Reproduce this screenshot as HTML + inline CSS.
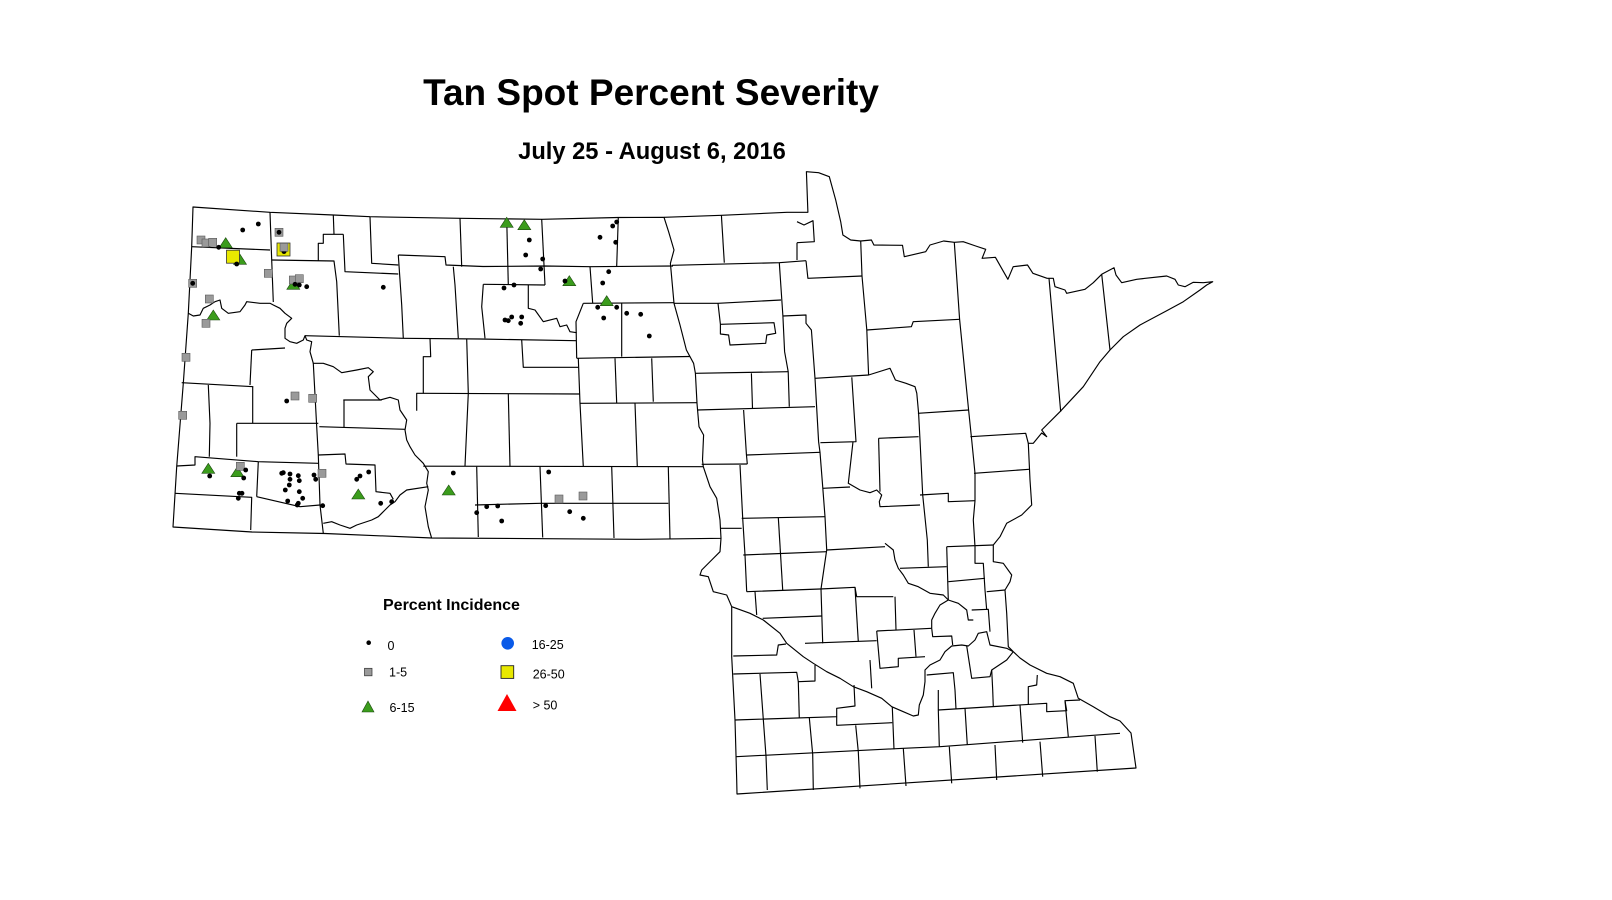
<!DOCTYPE html>
<html>
<head>
<meta charset="utf-8">
<style>
html,body{margin:0;padding:0;background:#fff;}
svg{display:block;}
text{font-family:"Liberation Sans",Arial,sans-serif;fill:#000;}
</style>
</head>
<body>
<svg width="1612" height="900" viewBox="0 0 1612 900" xmlns="http://www.w3.org/2000/svg">
<rect width="1612" height="900" fill="#fff"/>

<text x="651" y="105" font-size="37" font-weight="bold" text-anchor="middle">Tan Spot Percent Severity</text>
<text x="652" y="159" font-size="23.7" font-weight="bold" text-anchor="middle">July 25 - August 6, 2016</text>

<g fill="none" stroke="#000" stroke-width="1.15" stroke-linejoin="round">
<!-- North Dakota outline -->
<path d="M193,207 L270,212.3 L333.3,215 L370,216.7 L460,218.3 L542,219.3 L618,217.5 L664,217.3 L668.6,231.7 L674,250 L670.4,263.3 L674,303.3 L680,325 L686.4,350 L693.6,363.3 L695.4,373.3 L697,403.3 L699,426.7 L703.6,435 L702.5,460 L703.3,466.7 L710,486.7 L716.7,498.3 L720,520 L721,538.3 L640,539.3 L432,538 L325,533.5 L252,532 L173,527 L176.7,466.7 L183.3,383.3 L188.3,313.3 L191.7,246.7 Z"/>
<!-- Minnesota outline -->
<path d="M664,217.3 L721.4,215.3 L787,212.3 L797,212.3 L807.9,212.3 L806.4,171.7 L818.6,172.7 L829.3,176.7 L835.7,200 L840.7,221.7 L842.9,235 L850.7,240 L860.7,241 L871.4,240 L873.9,245 L902.5,245.3 L904.3,256.7 L925.7,251.7 L930,245 L943.6,241 L954.3,242.3 L963.2,241.7 L975.7,246 L985.7,249.3 L982.1,258.3 L995.4,257.3 L1000.7,266.7 L1007.9,279.3 L1013.2,266.7 L1027.5,265 L1032.9,273.3 L1047.1,278.3 L1053.3,278.3 L1055,286.7 L1065,290 L1066.7,293.3 L1085,289.3 L1093.3,282.7 L1101.7,274.3 L1114,267.7 L1116,275 L1121.7,282.7 L1136.7,279.3 L1166.7,276 L1175,279.3 L1178.3,285 L1185,286.7 L1193.3,282.3 L1203.3,282.7 L1212.7,281.7 L1206.7,285 L1200,290 L1183.3,301.7 L1166.7,310.7 L1140,325 L1123.3,336.7 L1110,350 L1100,361.7 L1083.3,386.7 L1060,411.7 L1041.7,430 L1046.7,436.7 L1041.7,433 L1033.3,443.3 L1028.3,443.3 L1030,480 L1031.7,505 L1021.7,515 L1006.7,523.3 L1000,536.7 L993.3,545 L993.3,561.7 L1003.3,563.3 L1011.7,575 L1010,581.7 L1005,590 L1006.7,613.3 L1008.3,646.7 L1013.3,651.7 L1020,658 L1030,665 L1046.7,673.3 L1060,676.7 L1073.3,683.3 L1078.3,698.3 L1093.3,706.7 L1110,716.7 L1120,721 L1131,733 L1136,768 L737,794 L736.7,780 L735,720 L731.7,656.7 L731.7,606.7 L726.7,595 L713.3,591.7 L708.3,576.7 L700,575 L701.7,570 L711.7,560 L720,551.7 L721,538.3"/>

<!-- ND counties -->
<path d="M191.7,246.7 L270,250"/>
<path d="M270,212.3 L271.7,260 L273.3,302"/>
<path d="M271.7,260 L334,261 L336.7,281.7 L339.3,335.7"/>
<path d="M318.3,261 L318.3,243.3 L323.3,243.3 L323.3,234.3 L343.3,234.3"/>
<path d="M333.3,215 L334,234.3"/>
<path d="M343.3,234.3 L345,271.7 L398.3,274"/>
<path d="M370,216.7 L371.7,263.3 L398.3,265"/>
<path d="M398.3,255 L445,256.7 L446,265 L483,266.5 L545,266 L590,266.7 L673,266"/>
<path d="M460,218.3 L461.7,266.7"/>
<path d="M398.3,255 L401.7,305 L403.3,338.3"/>
<path d="M453.3,266.7 L455,285 L458.3,338.3"/>
<path d="M305,335.7 L403.3,338.3 L480,339 L576,340.7"/>
<path d="M430,338.3 L430.7,356.7 L423.3,356.7 L423.3,393.3 L416.7,393.3 L416.7,410.7"/>
<path d="M466.7,339 L468.3,393.3 L465,466"/>
<path d="M506.7,218.3 L508.3,285"/>
<path d="M541.7,219.3 L545,285"/>
<path d="M483.3,284.3 L545,285"/>
<path d="M483.3,284.3 L481.7,306.7 L485,338.3"/>
<path d="M528.3,285 L528.3,308.3 L535,310 L543.3,321.7 L556.7,318.3 L560,326.7 L566.7,325 L570,331.7 L576.7,332.7"/>
<path d="M590,266.7 L592.7,303.3"/>
<path d="M583.3,303.3 L674,302.7"/>
<path d="M583.3,303.3 L576,321.7 L576.7,358.3"/>
<path d="M618.3,217.3 L616.7,266"/>
<path d="M621.7,303.3 L621.7,356.7"/>
<path d="M576.7,358.3 L690,356.5"/>
<path d="M615,358.3 L616.7,403.3"/>
<path d="M651.7,358.3 L653.3,401.7"/>
<path d="M521.7,340 L523.3,367.3 L578.3,367.3"/>
<path d="M423.3,393.3 L580,394"/>
<path d="M508.3,394 L510,466.7"/>
<path d="M578.3,358 L580,403.3 L583.3,466.7"/>
<path d="M580,403.3 L697,402.7"/>
<path d="M635,403.3 L637.3,466.7"/>
<path d="M423.3,466.2 L703.3,466.7"/>
<path d="M251.7,350 L285,348"/>
<path d="M251.7,350 L250,385"/>
<path d="M181.7,382.7 L253.3,386.7"/>
<path d="M208.3,385 L210,423.3 L209.3,456.7"/>
<path d="M252.7,386.7 L252.7,423.3"/>
<path d="M236.7,423.3 L318.3,423.3"/>
<path d="M236.7,423.3 L236.7,456.7"/>
<path d="M313.3,363.3 L316.7,426.7 L318.3,455"/>
<path d="M343.3,400 L381.7,400"/>
<path d="M344,400 L344,427.3"/>
<path d="M319.3,426.7 L405,429.3"/>
<path d="M176.7,466 L195,465 L195,456.7 L258.3,461.7 L318.3,463.3"/>
<path d="M318.3,455 L320,505 L323.3,533.3"/>
<path d="M318.3,455 L345,454 L346,464 L375,465 L376,491.7 L390,493.3 L393.3,499.3"/>
<path d="M258.3,461.7 L256.7,496.7"/>
<path d="M175,493.3 L251.7,497.3 L250.7,530"/>
<path d="M256.7,496.7 L300,506.7 L320,505"/>
<path d="M476.7,466.7 L478.3,537"/>
<path d="M475,505 L540,503.3 L668.3,503.3"/>
<path d="M540,466.7 L542.7,537.5"/>
<path d="M611.7,466.7 L614,538"/>
<path d="M668.3,466.7 L670,538.5"/>
<!-- Missouri river -->
<path d="M188.3,313.3 L193.3,316 L200,315 L203.3,308.3 L210,305 L215,301.7 L220,300 L221.7,308.3 L228.3,313.3 L240,311.7 L245,305 L246.7,301.7 L260,303.3 L270,303.3 L273.3,305 L280,308.3 L285,313.3 L291.7,318.3 L286.7,323.3 L285,328.3 L285,338.3 L290,341.7 L296.7,343.3 L303.3,340 L305,335.7 L306.7,340 L311.7,341.7 L310,351.7 L313.3,363.3 L323.3,363.3 L333.3,366.7 L341.7,372.7 L356.7,370 L368.3,367.7 L373.3,371.7 L368.3,376.7 L370,390 L380,400 L390,397.3 L398.3,400 L400,410 L406.7,420 L405,430 L406.7,440 L410,446.7 L415,455 L423.3,463.3 L428.3,471.7 L426.7,483.3 L428.3,490 L425,506.7 L428.3,526.7 L431.7,538.3"/>
<path d="M323.3,523.3 L331.7,521.7 L340,525 L350,528.3 L356.7,525 L371.7,520 L378.3,516.7 L385,510 L390,505 L395,501.7 L400,495 L406.7,490 L428.3,486.7"/>

<!-- MN counties north -->
<path d="M721.4,215.3 L724.3,262.7"/>
<path d="M672,265.3 L779.3,262.7 L806,260.7"/>
<path d="M797,242.7 L797,260"/>
<path d="M797,221.7 L804,225 L813,220.7 L814.3,241.7 L797,242.7"/>
<path d="M806,260.7 L807.9,278.3 L862,276"/>
<path d="M860.7,241 L862,276 L866.8,330 L868.6,375"/>
<path d="M954.3,242.3 L959.6,319.3 L968.6,410 L971.7,440 L975,473.3 L975,500.7 L973.3,520 L975,546.7 L975,563.3 L983.3,563.3 L985,590 L986.7,610"/>
<path d="M1049,278.3 L1060.7,411.7"/>
<path d="M1101.7,274.3 L1110,350"/>
<path d="M674,303.3 L718,303.3 L781,300"/>
<path d="M718,303.3 L720.4,324.3 L774,322.7 L775.7,333.3 L766.8,335 L765.7,343.3 L730,345 L728.6,335 L720.4,334 L720.4,324.3"/>
<path d="M779.3,262.7 L782.9,316 L784.6,351.7 L788.2,371.7 L789.3,406.7"/>
<path d="M782.9,316 L806,315 L806,323.3 L811.4,330 L815,378.3 L818.6,441.7 L820,452.3 L822.7,486.7 L825,516.7 L826.7,550 L821,589 L822.7,643.3"/>
<path d="M866.8,330 L911.4,326.7 L913.2,321.7 L959.6,319.3"/>
<path d="M815,378.3 L868.6,375 L890,368.3 L895.4,380 L906,383.3 L915,386.7 L916.8,393.3 L918.6,413.3 L920,440 L922.7,495 L927.3,540 L928.3,566.7"/>
<path d="M695.4,373.3 L788.2,371.7"/>
<path d="M697,410 L815,406.7"/>
<path d="M751.4,373.3 L752.5,408.3"/>
<path d="M743.6,410 L746.4,454.3 L747.3,464"/>
<path d="M701.7,464.3 L747.3,464"/>
<path d="M746.7,455 L820,452.3"/>
<path d="M851.8,377.3 L856,441.7 L820.4,442.7"/>
<path d="M853,441.7 L848.3,483.3 L860,490 L870,492.7 L876.7,490 L881.7,495 L879.3,501.7 L880,506.7 L920,505"/>
<path d="M822.7,488.3 L850,487"/>
<path d="M878.6,438.3 L918.6,436.7"/>
<path d="M878.6,438.3 L880,491.7"/>
<path d="M917.9,413.3 L968.6,410"/>
<path d="M970.4,436.7 L1025.7,433.3 L1028.3,443.3"/>
<path d="M974,473.3 L1029,469.3"/>
<path d="M920,495 L948.3,493.3 L948.3,501.7 L975,500.7"/>
<!-- MN central -->
<path d="M740,465 L742.7,518.3 L745,555 L746.7,591.7"/>
<path d="M721,528.3 L741.7,528.3"/>
<path d="M741.7,518.3 L825,516.7"/>
<path d="M778.3,517.3 L782.7,590"/>
<path d="M743.3,555 L826.7,551.7"/>
<path d="M826.7,550 L885,546.7"/>
<path d="M885,543.3 L893.3,550 L895,560 L898.3,568.3 L903.3,575 L908.3,583.3 L918.3,586.7 L930,593.3 L943.3,595 L948.3,600"/>
<path d="M900,568.3 L946.7,566.7"/>
<path d="M946.7,546.7 L993.3,545"/>
<path d="M948.3,581.7 L985,578.3"/>
<path d="M946.7,546.7 L948.3,600"/>
<path d="M746.7,591.7 L820,589 L855,587.3 L856.7,596.7 L893.3,596.7"/>
<path d="M855,587.3 L858.3,641.7"/>
<path d="M895,596.7 L896,630"/>
<path d="M755,591.7 L756.7,615"/>
<path d="M762.7,618.3 L821.7,616"/>
<path d="M805,643.3 L876.7,640.7"/>
<path d="M876.7,631 L931.7,628.3"/>
<path d="M876.7,631 L880,668.3 L898.3,666.7 L898.3,658.3 L925,656.7"/>
<path d="M914,630 L916,656.7"/>
<path d="M870,660 L871.7,688.3"/>
<path d="M931.7,628.3 L931.7,620 L935,613.3 L940,605 L948.3,600 L958.3,603.3 L966.7,610 L968.3,620 L973.3,620"/>
<path d="M971.7,610 L988.3,609.3 L990,631.7"/>
<path d="M931.7,628.3 L932.7,636.7 L951.7,636 L952.7,645"/>
<path d="M986.7,591.7 L1005,590"/>
<path d="M966.7,646 L971.7,678.3 L990,676.7 L991.7,670 L1006.7,660 L1013.3,651.7"/>
<path d="M991.7,670 L992.7,690"/>
<path d="M926.7,675 L953.3,672.7 L955,690"/>
<path d="M731.7,606.7 L750,613.3 L763.3,620 L780,633.3 L786.7,643.3 L803.3,656.7 L813.3,663.3 L826.7,671.7 L840,678.3 L853.3,686.7 L866.7,691.7 L881.7,698.3 L891.7,706.7 L903.3,711.7 L913.3,716 L918.3,715 L919.3,705 L923.3,695 L925,681.7 L925,670 L930,665 L940,660 L945,651.7 L951.7,646 L961.7,645 L968.3,646 L975,640 L978.3,633.3 L986.7,631.7 L990,645 L1006.7,648.3 L1013.3,651.7"/>
<!-- MN south -->
<path d="M733.3,656 L776.7,655 L778.3,645 L786,644"/>
<path d="M733.3,674 L796.7,672.3 L798.3,681.7 L815,681 L815,665"/>
<path d="M760,674 L763.3,719.3 L766,756 L767.3,790"/>
<path d="M798.3,681.7 L799.3,718.3"/>
<path d="M735,720 L836.7,716.7 L836.7,708.3 L855,706 L854,685"/>
<path d="M809.3,717.7 L812.7,754.3 L813.3,790"/>
<path d="M836.7,716.7 L836.7,725.3 L892.3,722.7"/>
<path d="M855.7,725.3 L858.3,751.7 L860,788.3"/>
<path d="M892.3,707.3 L894,749.3"/>
<path d="M736,756.7 L903.3,748.3 L940,746.7 L1120,733.3"/>
<path d="M903.3,748.3 L906,786"/>
<path d="M949.3,746.7 L951.7,783.3"/>
<path d="M995,745 L996.7,780"/>
<path d="M1040,741.7 L1042.7,776.7"/>
<path d="M1095,736 L1097.3,771.7"/>
<path d="M938.3,710 L1046.7,703.3 L1046.7,711.7 L1066.7,710.7 L1065,700.7 L1080,700"/>
<path d="M938.3,690 L938.3,710 L939.3,746.7"/>
<path d="M955,690 L956,709.3"/>
<path d="M965,708.3 L967.3,745"/>
<path d="M992.7,690 L993.3,706.7"/>
<path d="M1020,705 L1022.7,742.7"/>
<path d="M1028.3,705 L1028.3,686.7 L1036.7,685 L1037.3,675"/>
<path d="M1065,700.7 L1068.3,736.7"/>
</g>

<!-- markers: triangles -->
<g fill="#3b9c1c" stroke="#1d4a10" stroke-width="0.6">
<path d="M225.7,237.7 L232.2,247.7 L219.2,247.7 Z"/>
<path d="M240,254.3 L246.5,264.3 L233.5,264.3 Z"/>
<path d="M213.3,310 L219.8,320 L206.8,320 Z"/>
<path d="M293.3,279.3 L299.8,289.3 L286.8,289.3 Z"/>
<path d="M506.7,217.3 L513.2,227.3 L500.2,227.3 Z"/>
<path d="M524.3,219.7 L530.8,229.7 L517.8,229.7 Z"/>
<path d="M569.3,275.7 L575.8,285.7 L562.8,285.7 Z"/>
<path d="M606.7,295.7 L613.2,305.7 L600.2,305.7 Z"/>
<path d="M208.3,463.3 L214.8,473.3 L201.8,473.3 Z"/>
<path d="M237.3,466.7 L243.8,476.7 L230.8,476.7 Z"/>
<path d="M358.3,489 L364.8,499 L351.8,499 Z"/>
<path d="M448.7,485 L455.2,495 L442.2,495 Z"/>
</g>
<!-- yellow squares -->
<g fill="#e8e800" stroke="#333" stroke-width="0.8">
<rect x="226.5" y="250.2" width="13" height="13"/>
<rect x="277" y="243" width="13" height="13"/>
</g>
<circle cx="284" cy="251.5" r="2.5" fill="#000"/>
<!-- gray squares -->
<g fill="#9a9a9a" stroke="#5a5a5a" stroke-width="0.6">
<rect x="197" y="236" width="8" height="8"/>
<rect x="202" y="239" width="8" height="8"/>
<rect x="208.7" y="238.3" width="8" height="8"/>
<rect x="275" y="228.3" width="8" height="8"/>
<rect x="280" y="243.3" width="8" height="8"/>
<rect x="264.3" y="269.3" width="8" height="8"/>
<rect x="289.3" y="276" width="8" height="8"/>
<rect x="295.3" y="274.7" width="8" height="8"/>
<rect x="188.7" y="279.3" width="8" height="8"/>
<rect x="205.3" y="295" width="8" height="8"/>
<rect x="202" y="319.3" width="8" height="8"/>
<rect x="182" y="353.3" width="8" height="8"/>
<rect x="178.7" y="411.3" width="8" height="8"/>
<rect x="291" y="392" width="8" height="8"/>
<rect x="308.7" y="394.3" width="8" height="8"/>
<rect x="236.3" y="462.3" width="8" height="8"/>
<rect x="318" y="469.3" width="8" height="8"/>
<rect x="555" y="495" width="8" height="8"/>
<rect x="579" y="492" width="8" height="8"/>
</g>
<!-- dots -->
<g fill="#000">
<circle cx="258.3" cy="224" r="2.4"/><circle cx="242.7" cy="230" r="2.4"/><circle cx="279" cy="232.3" r="2.4"/>
<circle cx="218.7" cy="247.3" r="2.4"/><circle cx="236.7" cy="264" r="2.4"/><circle cx="192.7" cy="283.3" r="2.4"/>
<circle cx="306.7" cy="286.7" r="2.4"/><circle cx="295" cy="284.3" r="2.4"/><circle cx="299.3" cy="285" r="2.4"/>
<circle cx="383.3" cy="287.3" r="2.4"/><circle cx="616.7" cy="222" r="2.4"/><circle cx="612.7" cy="226" r="2.4"/>
<circle cx="600" cy="237.3" r="2.4"/><circle cx="615.7" cy="242.3" r="2.4"/><circle cx="529.3" cy="240" r="2.4"/>
<circle cx="525.7" cy="255" r="2.4"/><circle cx="542.7" cy="259" r="2.4"/><circle cx="540.7" cy="269" r="2.4"/>
<circle cx="608.7" cy="271.7" r="2.4"/><circle cx="602.7" cy="283" r="2.4"/><circle cx="565" cy="281" r="2.4"/>
<circle cx="514" cy="285" r="2.4"/><circle cx="504" cy="288" r="2.4"/><circle cx="505" cy="320" r="2.4"/>
<circle cx="508.3" cy="320.7" r="2.4"/><circle cx="511.7" cy="317" r="2.4"/><circle cx="521.7" cy="317" r="2.4"/>
<circle cx="520.7" cy="323.3" r="2.4"/><circle cx="597.7" cy="307.3" r="2.4"/><circle cx="616.7" cy="307.3" r="2.4"/>
<circle cx="603.7" cy="318" r="2.4"/><circle cx="626.7" cy="313.3" r="2.4"/><circle cx="640.7" cy="314.3" r="2.4"/>
<circle cx="649.3" cy="336" r="2.4"/><circle cx="286.7" cy="401" r="2.4"/><circle cx="209.7" cy="476" r="2.4"/>
<circle cx="245.7" cy="470" r="2.4"/><circle cx="243.7" cy="478" r="2.4"/><circle cx="239.3" cy="493.3" r="2.4"/>
<circle cx="242" cy="493.3" r="2.4"/><circle cx="238.3" cy="498.3" r="2.4"/><circle cx="281.7" cy="473.3" r="2.4"/>
<circle cx="283.3" cy="472.7" r="2.4"/><circle cx="290" cy="474" r="2.4"/><circle cx="290" cy="479.3" r="2.4"/>
<circle cx="289.3" cy="485" r="2.4"/><circle cx="298.3" cy="475.7" r="2.4"/><circle cx="299.3" cy="480.7" r="2.4"/>
<circle cx="285.3" cy="490" r="2.4"/><circle cx="299.3" cy="491.7" r="2.4"/><circle cx="302.7" cy="498.3" r="2.4"/>
<circle cx="287.7" cy="501" r="2.4"/><circle cx="298.3" cy="503.3" r="2.4"/><circle cx="297.3" cy="505" r="2.4"/>
<circle cx="314" cy="475" r="2.4"/><circle cx="315.7" cy="479.3" r="2.4"/><circle cx="322.7" cy="505.7" r="2.4"/>
<circle cx="356.7" cy="479.3" r="2.4"/><circle cx="360" cy="476" r="2.4"/><circle cx="368.7" cy="472" r="2.4"/>
<circle cx="380.7" cy="503.3" r="2.4"/><circle cx="391.7" cy="501.7" r="2.4"/><circle cx="453.3" cy="473" r="2.4"/>
<circle cx="548.7" cy="472" r="2.4"/><circle cx="476.7" cy="512.7" r="2.4"/><circle cx="486.7" cy="506.7" r="2.4"/>
<circle cx="497.7" cy="506" r="2.4"/><circle cx="501.7" cy="521" r="2.4"/><circle cx="545.7" cy="505.7" r="2.4"/>
<circle cx="569.7" cy="511.7" r="2.4"/><circle cx="583.3" cy="518.3" r="2.4"/>
</g>

<!-- legend -->
<text x="383" y="610" font-size="16" font-weight="bold">Percent Incidence</text>
<circle cx="368.7" cy="642.7" r="2.3" fill="#000"/>
<text x="387.5" y="650" font-size="12.5">0</text>
<rect x="364.5" y="668.3" width="7.5" height="7.5" fill="#9a9a9a" stroke="#333" stroke-width="0.7"/>
<text x="389" y="676.5" font-size="12.5">1-5</text>
<path d="M368,701 L374,712 L362,712 Z" fill="#3b9c1c" stroke="#1d4a10" stroke-width="0.6"/>
<text x="389.5" y="712" font-size="12.5">6-15</text>
<circle cx="507.7" cy="643.3" r="6.3" fill="#0a5ae8"/>
<text x="531.7" y="649" font-size="12.5">16-25</text>
<rect x="501" y="665.7" width="12.7" height="12.7" fill="#e8e800" stroke="#222" stroke-width="0.9"/>
<text x="532.7" y="678.3" font-size="12.5">26-50</text>
<path d="M507,694 L516.5,711 L497.5,711 Z" fill="#ff0000"/>
<text x="532.7" y="709.5" font-size="12.5">&gt; 50</text>
</svg>
</body>
</html>
